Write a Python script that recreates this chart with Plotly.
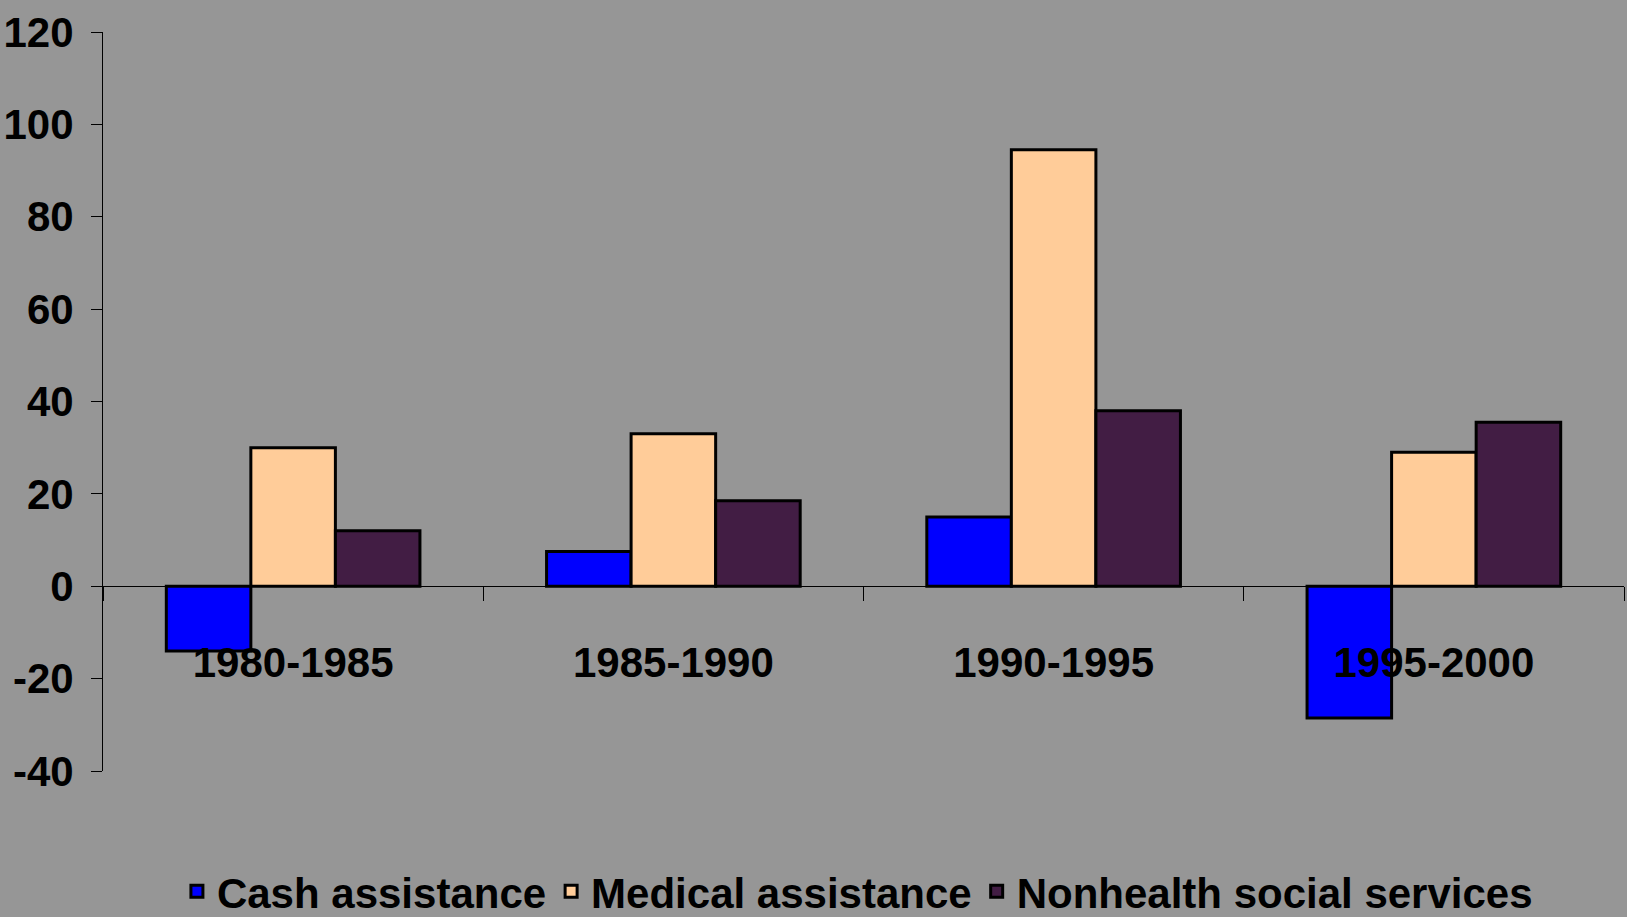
import plotly.graph_objects as go

# --- dados ---
periods = ["1980-1985", "1985-1990", "1990-1995", "1995-2000"]
cash = [-14, 7.5, 15, -28.5]
medical = [30, 33, 94.5, 29]
nonhealth = [12, 18.5, 38, 35.5]

y_ticks = [-40, -20, 0, 20, 40, 60, 80, 100, 120]
y_tick_labels = ["-40", "-20", "0", "20", "40", "60", "80", "100", "120"]

BG = "#969696"
FONT = "Liberation Sans, Arial, sans-serif"

fig = go.Figure()
fig.add_trace(go.Bar(x=periods, y=cash, name="Cash assistance",
                     marker=dict(color="#0000ff", line=dict(color="black", width=3))))
fig.add_trace(go.Bar(x=periods, y=medical, name="Medical assistance",
                     marker=dict(color="#ffcc99", line=dict(color="black", width=3))))
fig.add_trace(go.Bar(x=periods, y=nonhealth, name="Nonhealth social services",
                     marker=dict(color="#421d44", line=dict(color="black", width=3))))

fig.update_layout(
    width=1627, height=917,
    paper_bgcolor=BG, plot_bgcolor=BG,
    barmode="group", bargap=0.333, bargroupgap=0,
    margin=dict(l=103, r=3, t=32, b=146, autoexpand=False),
    font=dict(family=FONT, color="black"),
    showlegend=True,
    legend=dict(orientation="h", x=0.496, xanchor="center", y=-0.163, yanchor="middle",
                font=dict(size=42, family=FONT, weight="bold"), bgcolor="rgba(0,0,0,0)"),
)
# eixo x cruzando em zero
fig.update_xaxes(anchor="free", position=0.25, showline=True, linecolor="black", linewidth=1,
                 ticks="outside", tickson="boundaries", ticklen=14, tickcolor="black",
                 tickfont=dict(size=42, family=FONT, weight="bold"),
                 ticklabelstandoff=39, showgrid=False, range=[-0.5, 3.5])
fig.update_yaxes(range=[-40, 120], tickvals=y_ticks, ticktext=y_tick_labels,
                 showline=True, linecolor="black", linewidth=1, ticks="outside", ticklen=11,
                 tickcolor="black", tickfont=dict(size=42, family=FONT, weight="bold"),
                 ticklabelstandoff=9, showgrid=False, zeroline=False)

fig.write_html("out.html", config={"displayModeBar": False},
               post_script="document.body.style.margin='0';")
